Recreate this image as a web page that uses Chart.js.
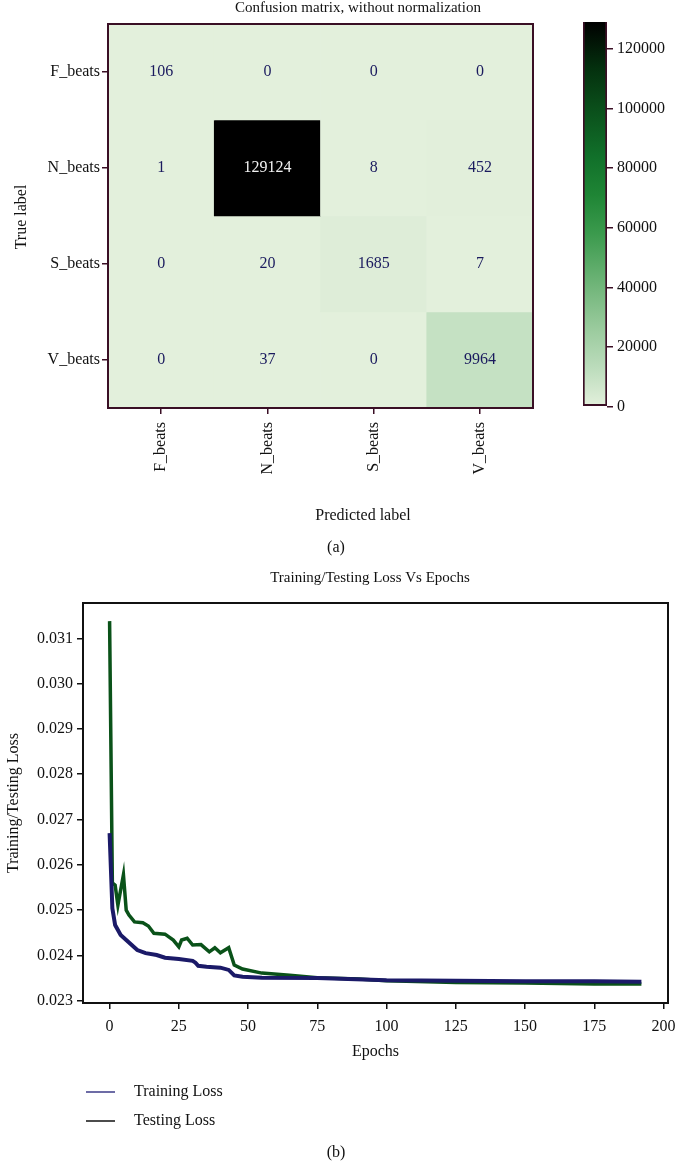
<!DOCTYPE html>
<html lang="en">
<head>
    <meta charset="UTF-8">
    <title>Confusion matrix and loss curves</title>
    <script src="https://cdn.jsdelivr.net/npm/chart.js"></script>
    <style>
        body {
            margin: 0;
            background: #ffffff;
        }
        .page {
            position: relative;
            width: 676px;
            height: 1162px;
        }
        canvas {
            position: absolute;
        }
        #matrixChart { left: 0; top: 0; }
        #colorbarChart { left: 560px; top: 0; }
        #lossChart { left: 0; top: 560px; }
    </style>
</head>
<body>
    <div class="page">
        <canvas id="matrixChart" width="676" height="560"></canvas>
        <canvas id="colorbarChart" width="116" height="420"></canvas>
        <canvas id="lossChart" width="676" height="602"></canvas>
    </div>

    <script>
        // confusion matrix (rows = true label, columns = predicted label)
        const classLabels = ['F_beats', 'N_beats', 'S_beats', 'V_beats'];
        const rowF = [106, 0, 0, 0];
        const rowN = [1, 129124, 8, 452];
        const rowS = [0, 20, 1685, 7];
        const rowV = [0, 37, 0, 9964];
        const colorbarTicks = [0, 20000, 40000, 60000, 80000, 100000, 120000];

        // loss curves
        const trainEpochs = [0, 1, 2, 4, 6, 8, 10, 13, 17, 20, 25, 30, 31, 32, 35, 40, 43, 45, 48, 55, 75, 100, 125, 150, 175, 192];
        const trainLoss = [0.02670, 0.02504, 0.02467, 0.02445, 0.02434, 0.02423, 0.02412, 0.02405, 0.02401, 0.02395, 0.02392, 0.02388, 0.02384, 0.02377, 0.02375, 0.02373, 0.02368, 0.02356, 0.02353, 0.02351, 0.02350, 0.02345, 0.02344, 0.02343, 0.02343, 0.02342];
        const testEpochs = [0, 1, 2, 3, 5, 6, 7, 9, 12, 14, 16, 20, 23, 25, 26, 28, 30, 33, 36, 38, 40, 43, 45, 48, 55, 65, 75, 90, 100, 125, 150, 175, 192];
        const testLoss = [0.03138, 0.02560, 0.02555, 0.02511, 0.02578, 0.02500, 0.02489, 0.02474, 0.02472, 0.02465, 0.02449, 0.02447, 0.02434, 0.02419, 0.02434, 0.02438, 0.02423, 0.02424, 0.02408, 0.02417, 0.02406, 0.02417, 0.02379, 0.02370, 0.02361, 0.02356, 0.02351, 0.02348, 0.02344, 0.02340, 0.02339, 0.02337, 0.02337];
        const lossTicks = [0.023, 0.024, 0.025, 0.026, 0.027, 0.028, 0.029, 0.030, 0.031];
        const epochTicks = [0, 25, 50, 75, 100, 125, 150, 175, 200];

        const serif = 'Liberation Serif, Times New Roman, serif';
        const maroon = '#3a0f25';

        // green-to-black colour map, t in [0, 1]
        const cmapStops = [
            [0.00, '#e3f0dc'], [0.10, '#bcdcbc'], [0.20, '#9bcb9e'], [0.30, '#76b87e'],
            [0.45, '#3b9a4d'], [0.55, '#1f8535'], [0.65, '#11702a'], [0.78, '#0a4d1a'],
            [0.88, '#04300e'], [1.00, '#000000']
        ];
        function hexToRgb(h) {
            return [1, 3, 5].map(i => parseInt(h.substr(i, 2), 16));
        }
        function cmap(t) {
            t = Math.max(0, Math.min(1, t));
            for (let i = 1; i < cmapStops.length; i++) {
                if (t <= cmapStops[i][0]) {
                    const [t0, c0] = cmapStops[i - 1];
                    const [t1, c1] = cmapStops[i];
                    const f = (t - t0) / (t1 - t0);
                    const a = hexToRgb(c0), b = hexToRgb(c1);
                    const rgb = a.map((v, k) => Math.round(v + (b[k] - v) * f));
                    return `rgb(${rgb.join(',')})`;
                }
            }
            return cmapStops[cmapStops.length - 1][1];
        }

        // free text drawn at fixed spots (titles, panel letters)
        const captions = {
            id: 'captions',
            afterDraw(chart, args, opts) {
                const c = chart.ctx;
                (opts.items || []).forEach(it => {
                    c.save();
                    c.font = `${it.size || 16}px ${serif}`;
                    c.fillStyle = '#111111';
                    c.textAlign = 'center';
                    c.textBaseline = 'middle';
                    c.translate(it.x, it.y);
                    if (it.rotate) c.rotate(it.rotate);
                    c.fillText(it.text, 0, 0);
                    c.restore();
                });
            }
        };

        const frame = {
            id: 'frame',
            afterDraw(chart, args, opts) {
                const { left, top, right, bottom } = chart.chartArea;
                const c = chart.ctx;
                c.save();
                c.strokeStyle = opts.color;
                c.lineWidth = opts.width;
                c.strokeRect(left, top, right - left, bottom - top);
                c.restore();
            }
        };

        // count written in the middle of each cell
        const cellText = {
            id: 'cellText',
            afterDatasetsDraw(chart) {
                const c = chart.ctx;
                c.save();
                c.font = `16px ${serif}`;
                c.textAlign = 'center';
                c.textBaseline = 'middle';
                chart.data.datasets.forEach((ds, i) => {
                    chart.getDatasetMeta(i).data.forEach((bar, j) => {
                        const v = ds.counts[j];
                        c.fillStyle = v / maxCount > 0.6 ? '#f2f2f2' : '#1a1a5e';
                        c.fillText(String(v), bar.x, (bar.y + bar.base) / 2);
                    });
                });
                c.restore();
            }
        };

        // ---- confusion matrix ----
        const matrixRows = [rowF, rowN, rowS, rowV];
        const maxCount = Math.max(...matrixRows.flat());

        new Chart(document.getElementById('matrixChart'), {
            type: 'bar',
            data: {
                labels: classLabels,
                datasets: matrixRows.map((row, r) => ({
                    label: classLabels[r],
                    data: row.map(() => [r, r + 1]),
                    counts: row,
                    backgroundColor: row.map(v => cmap(v / maxCount)),
                    borderWidth: 0,
                    barPercentage: 1,
                    categoryPercentage: 1,
                    grouped: false
                }))
            },
            options: {
                responsive: false,
                animation: false,
                layout: { padding: { top: 24, right: 143, left: 0, bottom: 0 } },
                plugins: {
                    legend: { display: false },
                    tooltip: { enabled: false },
                    frame: { color: maroon, width: 2 },
                    captions: {
                        items: [
                            { text: 'Confusion matrix, without normalization', x: 358, y: 8, size: 15 },
                            { text: 'True label', x: 22, y: 217, rotate: -Math.PI / 2 },
                            { text: 'Predicted label', x: 363, y: 516 },
                            { text: '(a)', x: 336, y: 548 }
                        ]
                    }
                },
                scales: {
                    x: {
                        grid: { display: true, drawOnChartArea: false, offset: false, color: maroon, tickLength: 6, lineWidth: 1.5 },
                        border: { color: maroon, width: 2 },
                        ticks: { minRotation: 90, maxRotation: 90, padding: 8, color: '#111111', font: { family: serif, size: 16 } },
                        afterFit: s => { s.height = 152; }
                    },
                    y: {
                        min: 0,
                        max: 4,
                        reverse: true,
                        afterBuildTicks: s => { s.ticks = [0.5, 1.5, 2.5, 3.5].map(v => ({ value: v })); },
                        grid: { display: true, drawOnChartArea: false, color: maroon, tickLength: 6, lineWidth: 1.5 },
                        border: { color: maroon, width: 2 },
                        ticks: {
                            callback: v => classLabels[Math.floor(v)],
                            padding: 2,
                            color: '#111111',
                            font: { family: serif, size: 16 }
                        },
                        afterFit: s => { s.width = 108; }
                    }
                }
            },
            plugins: [cellText, frame, captions]
        });

        // ---- colour bar ----
        new Chart(document.getElementById('colorbarChart'), {
            type: 'bar',
            data: {
                labels: [''],
                datasets: [{
                    data: [maxCount],
                    backgroundColor: ctx => {
                        const area = ctx.chart.chartArea;
                        if (!area) return cmap(0.5);
                        const g = ctx.chart.ctx.createLinearGradient(0, area.bottom, 0, area.top);
                        cmapStops.forEach(([t, col]) => g.addColorStop(t, col));
                        return g;
                    },
                    borderColor: maroon,
                    borderWidth: { top: 0, left: 2, right: 2, bottom: 2 },
                    borderSkipped: false,
                    barPercentage: 1,
                    categoryPercentage: 1
                }]
            },
            options: {
                responsive: false,
                animation: false,
                layout: { padding: { left: 23, top: 22, bottom: 12, right: 0 } },
                plugins: { legend: { display: false }, tooltip: { enabled: false } },
                scales: {
                    x: { display: false },
                    y: {
                        position: 'right',
                        min: 0,
                        max: maxCount,
                        afterBuildTicks: s => { s.ticks = colorbarTicks.map(v => ({ value: v })); },
                        grid: { display: true, drawOnChartArea: false, color: maroon, tickLength: 6, lineWidth: 1.5 },
                        border: { display: false },
                        ticks: { callback: v => String(v), padding: 4, color: '#111111', font: { family: serif, size: 16 } },
                        afterFit: s => { s.width = 69; }
                    }
                }
            }
        });

        // ---- loss curves ----
        const legendBox = {
            id: 'legendBox',
            afterDraw(chart) {
                const c = chart.ctx;
                c.save();
                c.font = `16px ${serif}`;
                c.textBaseline = 'middle';
                chart.data.datasets.forEach((ds, i) => {
                    const y = 532 + i * 29;
                    c.strokeStyle = ds.legendColor;
                    c.lineWidth = 1.5;
                    c.beginPath();
                    c.moveTo(86, y);
                    c.lineTo(115, y);
                    c.stroke();
                    c.fillStyle = '#111111';
                    c.fillText(ds.label, 134, y);
                });
                c.restore();
            }
        };

        new Chart(document.getElementById('lossChart'), {
            type: 'line',
            data: {
                datasets: [
                    {
                        label: 'Training Loss',
                        data: trainEpochs.map((e, i) => ({ x: e, y: trainLoss[i] })),
                        borderColor: '#1b1a68',
                        legendColor: '#3d3b88',
                        borderWidth: 4,
                        pointRadius: 0,
                        tension: 0
                    },
                    {
                        label: 'Testing Loss',
                        data: testEpochs.map((e, i) => ({ x: e, y: testLoss[i] })),
                        borderColor: '#0a5219',
                        legendColor: '#111111',
                        borderWidth: 3.5,
                        pointRadius: 0,
                        tension: 0
                    }
                ]
            },
            options: {
                responsive: false,
                animation: false,
                layout: { padding: { top: 43, right: 8, left: 0, bottom: 97 } },
                plugins: {
                    legend: { display: false },
                    tooltip: { enabled: false },
                    frame: { color: '#111111', width: 2 },
                    captions: {
                        items: [
                            { text: 'Training/Testing Loss Vs Epochs', x: 370, y: 18, size: 15 },
                            { text: '(b)', x: 336, y: 593 }
                        ]
                    }
                },
                scales: {
                    x: {
                        type: 'linear',
                        min: -9.6,
                        max: 201.6,
                        afterBuildTicks: s => { s.ticks = epochTicks.map(v => ({ value: v })); },
                        grid: { display: true, drawOnChartArea: false, color: '#111111', tickLength: 6, lineWidth: 1.5 },
                        border: { color: '#111111', width: 2 },
                        ticks: { padding: 8, color: '#111111', font: { family: serif, size: 16 } },
                        title: { display: true, text: 'Epochs', color: '#111111', font: { family: serif, size: 16 } },
                        afterFit: s => { s.height = 62; s.paddingLeft = 0; s.paddingRight = 0; }
                    },
                    y: {
                        min: 0.02295,
                        max: 0.03178,
                        afterBuildTicks: s => { s.ticks = lossTicks.map(v => ({ value: v })); },
                        grid: { display: true, drawOnChartArea: false, color: '#111111', tickLength: 6, lineWidth: 1.5 },
                        border: { color: '#111111', width: 2 },
                        ticks: { callback: v => v.toFixed(3), padding: 4, color: '#111111', font: { family: serif, size: 16 } },
                        title: { display: true, text: 'Training/Testing Loss', color: '#111111', font: { family: serif, size: 16 } },
                        afterFit: s => { s.width = 83; s.paddingTop = 0; s.paddingBottom = 0; }
                    }
                }
            },
            plugins: [frame, captions, legendBox]
        });
    </script>
</body>
</html>
